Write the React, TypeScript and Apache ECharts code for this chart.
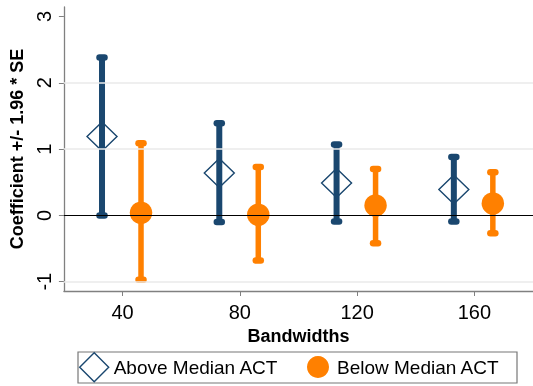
import React, { useEffect, useRef } from "react";
import * as echarts from "echarts";

const bandwidths = [40, 80, 120, 160];
const yTicks = [-1, 0, 1, 2, 3];
const aboveOffset = -7;
const belowOffset = 6.3;
const aboveCoef = [1.19, 0.64, 0.49, 0.39];
const aboveLo = [0.0, -0.1, -0.09, -0.09];
const aboveHi = [2.38, 1.39, 1.07, 0.88];
const belowCoef = [0.04, 0.01, 0.15, 0.18];
const belowLo = [-0.97, -0.68, -0.42, -0.27];
const belowHi = [1.09, 0.73, 0.7, 0.65];

const BLUE = "#1a476f";
const ORANGE = "#ff8000";
const FONT = "'Liberation Sans', Arial, sans-serif";

function errorBarRender(color: string, width: number) {
  return (params: any, api: any) => {
    const x = api.value(0);
    const lo = api.coord([x, api.value(1)]);
    const hi = api.coord([x, api.value(2)]);
    const capStyle = { stroke: color, lineWidth: 6.5, lineCap: "round", opacity: 1 };
    return {
      type: "group",
      children: [
        { type: "line", shape: { x1: lo[0], y1: lo[1], x2: hi[0], y2: hi[1] }, style: { stroke: color, lineWidth: width, opacity: 1 } },
        { type: "line", shape: { x1: lo[0] - 2.5, y1: lo[1], x2: lo[0] + 2.5, y2: lo[1] }, style: capStyle },
        { type: "line", shape: { x1: hi[0] - 2.5, y1: hi[1], x2: hi[0] + 2.5, y2: hi[1] }, style: capStyle },
      ],
    };
  };
}

export default function App() {
  const ref = useRef<HTMLDivElement>(null);
  useEffect(() => {
    const chart = echarts.init(ref.current!, null, { renderer: "svg" });
    const aboveBars = bandwidths.map((b, i) => [b + aboveOffset, aboveLo[i], aboveHi[i]]);
    const belowBars = bandwidths.map((b, i) => [b + belowOffset, belowLo[i], belowHi[i]]);
    const abovePts = bandwidths.map((b, i) => [b + aboveOffset, aboveCoef[i]]);
    const belowPts = bandwidths.map((b, i) => [b + belowOffset, belowCoef[i]]);
    chart.setOption({
      animation: false,
      textStyle: { fontFamily: FONT },
      grid: { left: 59, top: 7, right: -4, bottom: 95 },
      xAxis: {
        type: "value",
        min: 20,
        max: 180,
        axisLine: { show: true, onZero: false, lineStyle: { color: "#808080", width: 1.3 } },
        axisTick: { show: true, customValues: bandwidths, length: 5, lineStyle: { color: "#808080" } },
        axisLabel: { customValues: bandwidths, fontSize: 20, color: "#000", margin: 11, fontFamily: FONT },
        splitLine: { show: false },
        name: "Bandwidths",
        nameLocation: "middle",
        nameGap: 32,
        nameTextStyle: { fontSize: 18, fontWeight: "bold", color: "#000", fontFamily: FONT },
      },
      yAxis: {
        type: "value",
        min: -1.14,
        max: 3.143,
        axisLine: { show: true, onZero: false, lineStyle: { color: "#808080", width: 1.3 } },
        axisTick: { show: true, customValues: yTicks, length: 5, lineStyle: { color: "#808080" } },
        axisLabel: { customValues: yTicks, fontSize: 20, color: "#000", margin: 10, rotate: 90, fontFamily: FONT },
        splitLine: { show: false },
        name: "Coefficient +/- 1.96 * SE",
        nameLocation: "middle",
        nameRotate: 90,
        nameGap: 34,
        nameTextStyle: { fontSize: 18, fontWeight: "bold", color: "#000", fontFamily: FONT },
      },
      legend: [
        {
          data: [{ name: "Above Median ACT", icon: "diamond", itemStyle: { color: "transparent", borderColor: BLUE, borderWidth: 1.4, opacity: 1 } }],
          left: 79,
          top: 352,
          padding: 0,
          itemWidth: 29,
          itemHeight: 29,
          selectedMode: false,
          textStyle: { fontSize: 19, color: "#000", fontFamily: FONT },
        },
        {
          data: [{ name: "Below Median ACT", icon: "circle", itemStyle: { color: ORANGE, opacity: 1 } }],
          left: 307,
          top: 356,
          padding: 0,
          itemWidth: 22,
          itemHeight: 22,
          selectedMode: false,
          textStyle: { fontSize: 19, color: "#000", fontFamily: FONT, padding: [0, 0, 0, 3] },
        },
      ],
      graphic: [
        {
          type: "rect",
          shape: { x: 78, y: 352, width: 439, height: 31 },
          style: { fill: "none", stroke: "#777", lineWidth: 1.2 },
          silent: true,
        },
      ],
      series: [
        {
          type: "line",
          data: [],
          z: 1,
          silent: true,
          markLine: {
            silent: true,
            symbol: "none",
            label: { show: false },
            data: [
              { yAxis: -1, lineStyle: { color: "#eaeaea", width: 1.5, type: "solid" } },
              { yAxis: 1, lineStyle: { color: "#eaeaea", width: 1.5, type: "solid" } },
              { yAxis: 2, lineStyle: { color: "#eaeaea", width: 1.5, type: "solid" } },
              { yAxis: 0, lineStyle: { color: "#000", width: 1, type: "solid" } },
            ],
          },
        },
        { type: "custom", name: "aboveCI", data: aboveBars, renderItem: errorBarRender(BLUE, 6), z: 2, silent: true },
        { type: "custom", name: "belowCI", data: belowBars, renderItem: errorBarRender(ORANGE, 5.5), z: 2, silent: true },
        {
          type: "scatter",
          name: "Above Median ACT",
          data: abovePts,
          symbol: "diamond",
          symbolSize: [30, 29],
          itemStyle: { color: "transparent", borderColor: BLUE, borderWidth: 1.4, opacity: 1 },
          z: 3,
          silent: true,
        },
        {
          type: "scatter",
          name: "Below Median ACT",
          data: belowPts,
          symbol: "circle",
          symbolSize: 22.5,
          itemStyle: { color: ORANGE, opacity: 1 },
          z: 3,
          silent: true,
        },
      ],
    });
    return () => chart.dispose();
  }, []);
  return <div ref={ref} style={{ position: "fixed", left: 0, top: 0, width: 533, height: 386 }} />;
}
